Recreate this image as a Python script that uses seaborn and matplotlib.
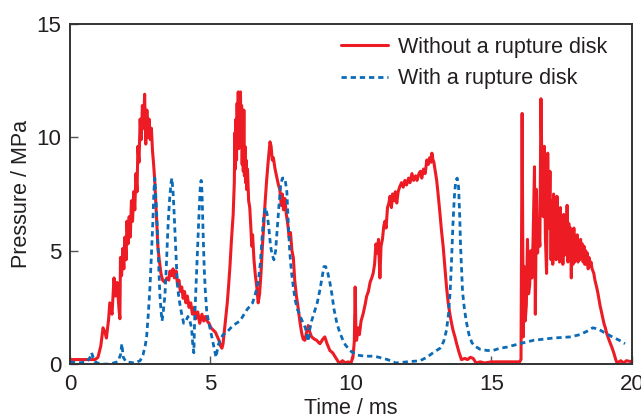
import numpy as np
import pandas as pd
import matplotlib
matplotlib.use("Agg")
import matplotlib.pyplot as plt
import seaborn as sns

# ---- data ----
t_without = [0.0, 0.9, 1.0, 1.1, 1.18, 1.25, 1.3, 1.38, 1.42, 1.5, 1.57, 1.62, 1.68, 1.75, 1.78,
             1.80, 1.84, 1.88, 1.92, 1.96, 2.00, 2.03, 2.07, 2.11, 2.15, 2.19, 2.23, 2.27, 2.31,
             2.35, 2.39, 2.42, 2.46, 2.50, 2.54, 2.58, 2.62, 2.66, 2.70, 2.74, 2.78, 2.82, 2.86,
             2.90, 2.94, 2.98, 3.02, 3.06, 3.09, 3.13, 3.18, 3.24, 3.30, 3.38, 3.45, 3.52, 3.56,
             3.62, 3.67, 3.72, 3.78, 3.83, 3.88, 3.93, 3.98, 4.03, 4.08, 4.13, 4.18, 4.24, 4.30,
             4.36, 4.42, 4.48, 4.55, 4.62, 4.70, 4.76, 4.82, 4.88, 4.95, 5.02, 5.10, 5.18, 5.25,
             5.32, 5.36, 5.41, 5.45, 5.50, 5.55, 5.60, 5.65, 5.70, 5.75, 5.81,
             5.85, 5.87, 5.89, 5.91, 5.93, 5.95, 5.97, 5.99, 6.01, 6.03, 6.05, 6.07, 6.09, 6.11,
             6.13, 6.15, 6.17, 6.19, 6.21, 6.23, 6.25, 6.27, 6.29, 6.32, 6.36,
             6.40, 6.44, 6.47, 6.50, 6.55, 6.60, 6.65, 6.70, 6.75, 6.80, 6.85, 6.90, 6.95, 7.00,
             7.06, 7.12, 7.16, 7.20, 7.24, 7.30, 7.37, 7.42, 7.47, 7.52, 7.56, 7.60, 7.65, 7.70,
             7.75, 7.80, 7.85, 7.90, 7.95, 8.00, 8.06, 8.12, 8.18, 8.25, 8.30, 8.36, 8.42, 8.48,
             8.54, 8.60, 8.70, 8.78, 8.85, 8.90, 9.00, 9.07, 9.15, 9.25, 9.35, 9.45, 9.55, 9.60,
             9.70, 9.80, 9.90, 10.00, 10.07, 10.12, 10.15, 10.18, 10.20, 10.26, 10.30, 10.36,
             10.43, 10.50, 10.56, 10.62, 10.68, 10.74, 10.79, 10.84, 10.89, 10.94, 10.98, 11.03,
             11.07, 11.12, 11.17, 11.21, 11.25, 11.30, 11.35, 11.39, 11.44, 11.48, 11.53, 11.58,
             11.63, 11.68, 11.73, 11.80, 11.86, 11.92, 11.98, 12.05, 12.10, 12.17, 12.23, 12.30,
             12.35, 12.42, 12.47, 12.52, 12.58, 12.64, 12.70, 12.75, 12.80, 12.85, 12.88, 12.92,
             12.95, 13.00, 13.05, 13.10, 13.17, 13.22, 13.28, 13.34, 13.40, 13.46, 13.52, 13.58,
             13.63, 13.70, 13.76, 13.85, 13.93, 14.05, 14.15, 14.25, 14.35, 14.45, 14.60, 14.75,
             15.00, 15.40, 15.80, 16.00, 16.05, 16.09, 16.13, 16.16, 16.20, 16.24, 16.28, 16.32,
             16.36, 16.40, 16.44, 16.48, 16.53, 16.56, 16.60, 16.64, 16.68, 16.72, 16.76, 16.80,
             16.84, 16.88, 16.92, 16.96, 17.00, 17.04, 17.08,
             17.12, 17.15, 17.18, 17.21, 17.24, 17.27, 17.30, 17.33, 17.36, 17.39, 17.42, 17.45,
             17.48, 17.51, 17.54, 17.57, 17.60, 17.63, 17.66, 17.69, 17.72, 17.75, 17.78, 17.81,
             17.84, 17.87, 17.90, 17.93, 17.96, 17.99, 18.02, 18.05, 18.08, 18.11, 18.14, 18.17,
             18.20, 18.23, 18.26, 18.29, 18.32, 18.35, 18.38, 18.41, 18.44, 18.47, 18.50, 18.54,
             18.58,
             18.64, 18.68, 18.74, 18.79, 18.86, 18.93, 19.00, 19.05, 19.10, 19.20,
             19.28, 19.35, 19.42, 19.47, 19.60, 19.70, 19.80, 20.00]
p_without = [0.2, 0.2, 0.3, 0.8, 1.6, 1.4, 1.15, 2.0, 2.7, 2.2, 3.8, 3.0, 3.6, 2.4, 2.0,
             4.7, 3.9, 5.1, 4.2, 5.6, 4.6, 6.3, 5.3, 6.5, 5.6, 7.2, 6.3, 7.6, 6.8,
             8.4, 7.6, 9.6, 8.9, 10.8, 9.9, 11.4, 10.4, 11.9, 9.7, 11.2, 10.0, 10.8, 9.9,
             10.4, 9.4, 8.8, 8.1, 7.0, 6.3, 5.2, 4.6, 4.0, 3.7, 3.6, 3.8, 3.7, 4.1,
             3.9, 4.2, 3.8, 4.1, 3.5, 3.7, 3.2, 3.4, 2.9, 3.2, 2.7, 3.0, 2.5, 2.7,
             2.2, 2.5, 2.0, 2.3, 1.8, 2.2, 1.9, 2.1, 1.9, 1.8, 1.6, 1.5, 1.4, 1.2,
             1.0, 0.8, 0.7, 0.9, 1.5, 2.1, 2.7, 3.5, 4.4, 5.5, 6.6,
             8.0, 10.2, 8.6, 10.8, 9.0, 11.5, 10.0, 12.0, 9.5, 11.8, 10.0, 12.0, 9.6, 11.4,
             8.8, 10.5, 8.5, 11.2, 8.3, 9.6, 8.0, 9.0, 7.7, 8.6, 7.2,
             6.9, 6.0, 5.2, 5.7, 4.6, 3.9, 3.4, 2.7, 3.1, 4.0, 5.2, 6.2, 7.2, 8.1,
             9.0, 9.8, 9.6, 9.0, 9.1, 8.6, 8.2, 7.9, 7.7, 7.0, 7.5, 6.8, 7.3, 6.6,
             6.2, 5.6, 5.8, 5.0, 4.7, 3.7, 3.0, 2.5, 1.9, 1.35, 1.1, 1.05, 1.4, 1.7,
             1.4, 1.2, 1.1, 1.05, 0.95, 0.9, 1.1, 1.2, 0.9, 0.6, 0.5, 0.3, 0.1, 0.05,
             0.15, 0.05, 0.1, 0.05, 0.3, 1.0, 3.4, 1.2, 1.05, 1.6, 1.3, 1.9,
             2.2, 2.6, 3.0, 3.2, 3.6, 3.8, 4.0, 4.4, 5.3, 4.9, 5.5, 3.8,
             5.2, 5.5, 6.1, 6.3, 6.0, 6.9, 7.1, 7.4, 6.9, 7.5, 7.2, 7.6,
             7.1, 7.6, 7.8, 8.0, 7.8, 8.1, 7.9, 8.2, 8.0, 8.4, 8.1, 8.3,
             8.1, 8.4, 8.5, 8.2, 8.6, 8.4, 9.0, 8.8, 9.1, 8.9, 9.3, 9.0,
             8.9, 8.5, 8.1, 7.5, 6.6, 5.9, 5.2, 4.3, 3.4, 2.7, 2.2, 1.8,
             1.5, 1.2, 0.9, 0.5, 0.2, 0.25, 0.2, 0.3, 0.25, 0.05, 0.1, 0.05,
             0.1, 0.1, 0.1, 0.1, 0.2, 11.05, 1.2, 4.3, 1.9, 2.6, 5.5, 3.1,
             3.5, 5.0, 3.8, 5.5, 8.7, 2.2, 7.7, 4.9, 6.0, 5.2, 11.7, 8.1,
             6.5, 9.6, 5.5, 4.0, 9.3, 6.0, 8.5,
             4.6, 7.2, 4.4, 7.5, 4.9, 6.8, 4.6, 7.4, 4.8, 6.6, 4.5, 6.9,
             4.7, 6.3, 4.4, 6.6, 4.8, 6.5, 5.0, 7.0, 4.5, 6.2, 4.6, 6.0,
             3.8, 5.9, 4.4, 6.0, 4.5, 5.6, 4.6, 5.7, 4.5, 5.4, 4.6, 5.5,
             4.7, 5.3, 4.5, 5.2, 4.4, 5.0, 4.4, 4.9, 4.2, 4.7, 4.3, 4.5,
             4.2,
             4.0, 3.7, 3.4, 3.1, 2.6, 2.2, 1.8, 1.6, 1.35, 1.0,
             0.75, 0.5, 0.2, 0.05, 0.15, 0.05, 0.15, 0.1]

t_with = [0.0, 0.3, 0.6, 0.72, 0.77, 0.83, 0.9, 1.07, 1.4, 1.7, 1.8, 1.85, 1.9, 2.0, 2.3,
          2.5, 2.6, 2.68, 2.73, 2.79, 2.85, 2.9, 2.95, 2.99, 3.02, 3.05, 3.09, 3.13, 3.16,
          3.2, 3.24, 3.28, 3.33, 3.38, 3.42, 3.46, 3.5, 3.55, 3.6, 3.63, 3.67, 3.7, 3.74,
          3.78, 3.82, 3.87, 3.92, 3.98, 4.05, 4.13, 4.2, 4.27, 4.33, 4.37, 4.41, 4.44, 4.48,
          4.52, 4.56, 4.6, 4.64, 4.67, 4.7, 4.74, 4.78, 4.82, 4.87, 4.93, 5.0, 5.1, 5.2,
          5.27, 5.34, 5.45, 5.58, 5.8, 6.05, 6.3, 6.5, 6.6, 6.7, 6.78, 6.84, 6.9, 6.96,
          7.02, 7.08, 7.14, 7.2, 7.26, 7.32, 7.38, 7.44, 7.5, 7.56, 7.65, 7.72, 7.77, 7.82,
          7.88, 7.95, 8.02, 8.1, 8.2, 8.3, 8.38, 8.44, 8.48, 8.53, 8.6, 8.7, 8.8, 8.9,
          8.97, 9.04, 9.1, 9.18, 9.25, 9.32, 9.4, 9.5, 9.6, 9.7, 9.8, 9.96, 10.2, 10.5,
          10.8, 11.0, 11.3, 11.6, 12.0, 12.46, 12.7, 12.92, 13.17, 13.3, 13.4, 13.47, 13.53,
          13.58, 13.63, 13.68, 13.73, 13.78, 13.83, 13.87, 13.9, 13.93, 13.97, 14.03, 14.1,
          14.2, 14.3, 14.4, 14.6, 14.85, 15.05, 15.3, 15.55, 16.0, 16.5, 17.2, 17.8, 18.15,
          18.4, 18.6, 18.8, 19.0, 19.3, 19.55, 19.75]
p_with = [0.1, 0.05, 0.1, 0.3, 0.5, 0.3, 0.1, 0.0, 0.0, 0.1, 0.4, 0.9, 0.3, 0.1, 0.05,
          0.15, 0.4, 0.8, 1.2, 2.2, 3.4, 4.8, 6.2, 7.6, 8.2, 7.6, 6.6, 5.3, 4.2,
          3.1, 2.4, 1.9, 2.4, 3.0, 4.0, 5.2, 6.3, 7.3, 8.0, 8.2, 7.6, 6.9, 5.8,
          4.6, 3.6, 3.0, 2.6, 2.2, 1.8, 1.9, 2.1, 1.9, 1.6, 0.9, 0.5, 2.0, 3.2,
          4.3, 5.6, 6.8, 7.8, 8.1, 7.6, 5.8, 4.2, 3.2, 2.3, 1.9, 1.5, 0.9, 0.3,
          0.8, 1.05, 1.3, 1.4, 1.7, 1.9, 2.4, 2.7, 3.1, 3.6, 4.5, 5.6, 6.6, 6.9,
          6.6, 6.0, 5.2, 4.8, 4.6, 5.0, 6.0, 7.0, 7.9, 8.2, 8.2, 7.6, 6.2, 5.0,
          4.1, 3.4, 2.8, 2.4, 2.1, 1.8, 1.6, 1.2, 1.0, 1.5, 1.9, 2.3, 2.7, 3.3,
          3.8, 4.3, 4.3, 4.0, 3.6, 3.1, 2.4, 1.8, 1.4, 1.1, 0.85, 0.6, 0.4, 0.35,
          0.35, 0.3, 0.2, 0.05, 0.1, 0.15, 0.3, 0.5, 0.7, 1.0, 1.5, 2.2, 3.2,
          4.6, 6.2, 7.4, 8.1, 8.2, 7.8, 6.5, 5.2, 4.3, 3.2, 2.5, 1.9,
          1.3, 0.95, 0.8, 0.65, 0.6, 0.6, 0.7, 0.75, 0.9, 1.05, 1.15, 1.2, 1.3,
          1.45, 1.6, 1.55, 1.4, 1.2, 1.05, 0.9]

label_without = "Without a rupture disk"
label_with = "With a rupture disk"
x_ticks = [0, 5, 10, 15, 20]
y_ticks = [0, 5, 10, 15]

assert len(t_without) == len(p_without)
assert len(t_with) == len(p_with)

df_without = pd.DataFrame({"t": t_without, "p": p_without})
df_with = pd.DataFrame({"t": t_with, "p": p_with})

sns.set_style("ticks")
plt.rcParams["font.family"] = ["Liberation Sans", "DejaVu Sans"]
text_color = "#231f20"

fig = plt.figure(figsize=(6.41, 4.19), dpi=100)
ax = fig.add_axes([0.109, 0.131, 0.877, 0.812])

sns.lineplot(data=df_without, x="t", y="p", ax=ax, color="#ed1c24", lw=2.2,
             estimator=None, sort=False, label=label_without)
sns.lineplot(data=df_with, x="t", y="p", ax=ax, color="#0b6bb6", lw=2.0,
             estimator=None, sort=False, label=label_with)
ax.lines[1].set_linestyle((0, (1.9, 1.4)))

ax.set_xlim(0, 20)
ax.set_ylim(0, 15)
ax.set_xticks(x_ticks)
ax.set_yticks(y_ticks)
ax.tick_params(direction="in", length=6, width=1.0, color="#555555",
               labelsize=16, labelcolor=text_color)
ax.tick_params(axis="x", pad=7)
ax.tick_params(axis="y", pad=6)
for s in ax.spines.values():
    s.set_linewidth(1.4)
    s.set_color("#333333")
    s.set_visible(True)

ax.set_xlabel("Time / ms", fontsize=15.5, color=text_color, labelpad=2)
ax.set_ylabel("Pressure / MPa", fontsize=15.5, color=text_color, labelpad=3)

leg = ax.legend(loc="upper right", bbox_to_anchor=(0.972, 0.988), frameon=False,
                fontsize=15.5, handlelength=2.2, handletextpad=0.47, labelspacing=0.5,
                borderaxespad=0.0)
for txt in leg.get_texts():
    txt.set_color(text_color)

fig.savefig("out.png", dpi=100)
